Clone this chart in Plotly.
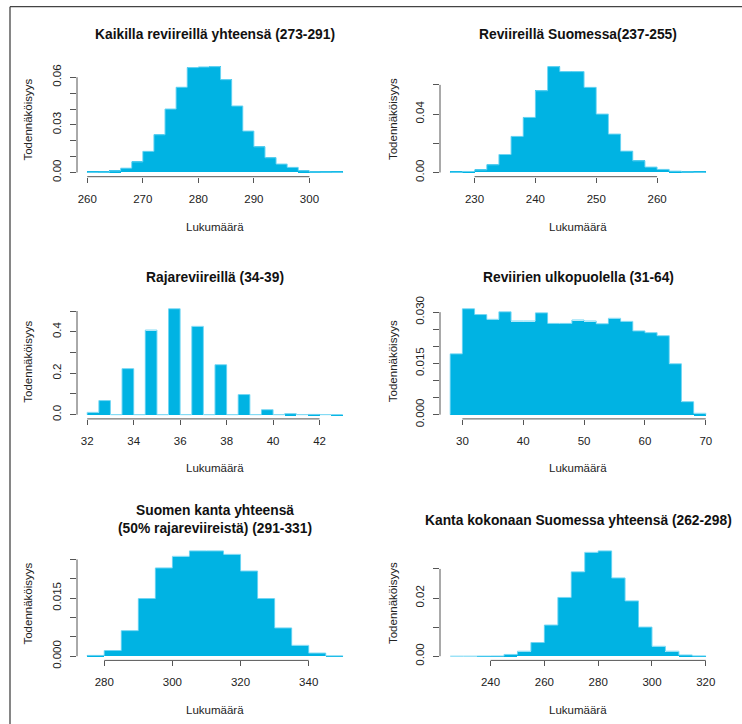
import plotly.graph_objects as go

FONT = "Liberation Sans, Arial, Helvetica, sans-serif"
FILL = "#00B3E3"
EDGE = "#6FD5F3"
AXC = "#555555"
TXT = "#222222"
W, H = 742, 724

# ---------------- data ----------------
p1_title = "Kaikilla reviireillä yhteensä (273-291)"
p1_edges = list(range(260, 308, 2))
p1_density = [0.0001, 0.0002, 0.0010, 0.0027, 0.0067, 0.0133, 0.0238, 0.0400, 0.0537,
              0.0661, 0.0665, 0.0667, 0.0585, 0.0419, 0.0261, 0.0162, 0.0093, 0.0053,
              0.0032, 0.0011, 0.0003, 0.0002, 0.0001]
p1_xticks = [260, 270, 280, 290, 300]
p1_yticks = [0.00, 0.01, 0.02, 0.03, 0.04, 0.05, 0.06]
p1_ylabels = ["0.00", "", "", "0.03", "", "", "0.06"]

p2_title = "Reviireillä Suomessa(237-255)"
p2_edges = list(range(226, 270, 2))
p2_density = [0.0001, 0.0007, 0.0018, 0.0053, 0.0123, 0.0247, 0.0377, 0.0560, 0.0725,
              0.0691, 0.0691, 0.0583, 0.0400, 0.0263, 0.0146, 0.0080, 0.0037, 0.0021,
              0.0009, 0.0003, 0.0001]
p2_xticks = [230, 240, 250, 260]
p2_yticks = [0.00, 0.02, 0.04, 0.06]
p2_ylabels = ["0.00", "", "0.04", ""]

p3_title = "Rajareviireillä (34-39)"
p3_edges = [32 + 0.5 * i for i in range(23)]
p3_density = [0.011, 0.068, 0, 0.222, 0, 0.408, 0, 0.511, 0, 0.426, 0, 0.241, 0, 0.097,
              0, 0.024, 0, 0.005, 0, 0.0012, 0, 0.0003]
p3_xticks = [32, 34, 36, 38, 40, 42]
p3_yticks = [0.0, 0.1, 0.2, 0.3, 0.4, 0.5]
p3_ylabels = ["0.0", "", "0.2", "", "0.4", ""]

p4_title = "Reviirien ulkopuolella (31-64)"
p4_edges = list(range(28, 72, 2))
p4_density = [0.0178, 0.0310, 0.0293, 0.0279, 0.0301, 0.0274, 0.0274, 0.0298, 0.0267,
              0.0267, 0.0277, 0.0274, 0.0266, 0.0282, 0.0273, 0.0245, 0.0240, 0.0231,
              0.0149, 0.0038, 0.0004]
p4_xticks = [30, 40, 50, 60, 70]
p4_yticks = [0.000, 0.005, 0.010, 0.015, 0.020, 0.025, 0.030]
p4_ylabels = ["0.000", "", "", "0.015", "", "", "0.030"]

p5_title = "Suomen kanta yhteensä<br>(50% rajareviireistä) (291-331)"
p5_edges = list(range(275, 355, 5))
p5_density = [0.0002, 0.00147, 0.0066, 0.0149, 0.0228, 0.0258, 0.0272, 0.0272, 0.0263,
              0.0220, 0.0149, 0.0073, 0.0028, 0.0008, 0.0001]
p5_xticks = [280, 300, 320, 340]
p5_yticks = [0.000, 0.005, 0.010, 0.015, 0.020, 0.025]
p5_ylabels = ["0.000", "", "", "0.015", "", ""]

p6_title = "Kanta kokonaan Suomessa yhteensä (262-298)"
p6_edges = list(range(225, 325, 5))
p6_density = [0.0, 0.0, 0.00003, 0.00005, 0.0006, 0.0017, 0.0047, 0.0107, 0.0202, 0.0290,
              0.0357, 0.0362, 0.0269, 0.0190, 0.0100, 0.0034, 0.0017, 0.0004, 0.0001]
p6_xticks = [240, 260, 280, 300, 320]
p6_yticks = [0.00, 0.01, 0.02, 0.03]
p6_ylabels = ["0.00", "", "0.02", ""]

x_title = "Lukumäärä"
y_title = "Todennäköisyys"

panels = [
    (p1_title, p1_edges, p1_density, p1_xticks, p1_yticks, p1_ylabels),
    (p2_title, p2_edges, p2_density, p2_xticks, p2_yticks, p2_ylabels),
    (p3_title, p3_edges, p3_density, p3_xticks, p3_yticks, p3_ylabels),
    (p4_title, p4_edges, p4_density, p4_xticks, p4_yticks, p4_ylabels),
    (p5_title, p5_edges, p5_density, p5_xticks, p5_yticks, p5_ylabels),
    (p6_title, p6_edges, p6_density, p6_xticks, p6_yticks, p6_ylabels),
]

# ---------------- layout geometry (pixels) ----------------
col_x = [(77, 353), (440, 716)]
row_y = [(62.4, 176.7), (304.5, 418.9), (546.7, 660.4)]
title_y = [[34, 34], [277, 277], [519, 520]]
xlab_y = [227, 468, 710]
ylab_x = [28, 392.5]


def px_x(p):
    return p / W


def px_y(p):
    return 1 - p / H


fig = go.Figure()
layout = dict(
    width=W, height=H,
    margin=dict(l=0, r=0, t=0, b=0, autoexpand=False),
    paper_bgcolor="white", plot_bgcolor="white",
    showlegend=False, bargap=0,
    font=dict(family=FONT, color=TXT, size=12),
)
shapes = []
annotations = []

for i, (title, edges, dens, xt, yt, ylab) in enumerate(panels):
    r, c = divmod(i, 2)
    n = i + 1
    xa = "x" if n == 1 else f"x{n}"
    ya = "y" if n == 1 else f"y{n}"
    centers = [(edges[k] + edges[k + 1]) / 2 for k in range(len(dens))]
    widths = [edges[k + 1] - edges[k] for k in range(len(dens))]
    fig.add_trace(go.Bar(
        x=centers, y=dens, width=widths, xaxis=xa, yaxis=ya,
        marker=dict(color=FILL, line=dict(width=0)),
        hoverinfo="x+y",
    ))
    # light outline of the histogram (tops and risers)
    fig.add_trace(go.Scatter(
        x=[edges[0]] + list(edges) + [edges[-1]],
        y=[0] + list(dens) + [dens[-1], 0],
        mode="lines", line=dict(color=EDGE, width=1, shape="hv"),
        xaxis=xa, yaxis=ya, hoverinfo="skip",
    ))
    span = edges[-1] - edges[0]
    ymax = max(dens)
    x0p, x1p = col_x[c]
    y0p, y1p = row_y[r]
    layout["xaxis" if n == 1 else f"xaxis{n}"] = dict(
        domain=[px_x(x0p), px_x(x1p)], anchor=ya,
        range=[edges[0] - 0.04 * span, edges[-1] + 0.04 * span],
        tickvals=xt, ticktext=[f"{v:g}" for v in xt],
        ticks="outside", ticklen=5, tickwidth=1, tickcolor=AXC,
        showgrid=False, zeroline=False, showline=False, automargin=False,
        tickfont=dict(family=FONT, size=11.5, color=TXT),
        ticklabelstandoff=6, fixedrange=True,
    )
    layout["yaxis" if n == 1 else f"yaxis{n}"] = dict(
        domain=[px_y(y1p), px_y(y0p)], anchor=xa,
        range=[-0.04 * ymax, 1.04 * ymax],
        tickvals=yt, ticktext=ylab, tickangle=-90,
        ticks="outside", ticklen=6, tickwidth=1, tickcolor=AXC,
        showgrid=False, zeroline=False, showline=False, automargin=False,
        tickfont=dict(family=FONT, size=11.5, color=TXT),
        ticklabelstandoff=4, fixedrange=True,
    )
    # R-style axis lines spanning first..last tick
    shapes.append(dict(type="line", xref=xa, yref=f"{ya} domain",
                       x0=xt[0], x1=xt[-1], y0=0, y1=0,
                       line=dict(color=AXC, width=1)))
    shapes.append(dict(type="line", xref=f"{xa} domain", yref=ya,
                       x0=0, x1=0, y0=yt[0], y1=yt[-1],
                       line=dict(color=AXC, width=1)))
    cx = px_x((x0p + x1p) / 2)
    annotations.append(dict(text=f"<b>{title}</b>", xref="paper", yref="paper",
                            x=cx, y=px_y(title_y[r][c]),
                            xanchor="center", yanchor="middle", showarrow=False,
                            font=dict(family=FONT, size=13.8, color="#111111")))
    annotations.append(dict(text=x_title, xref="paper", yref="paper",
                            x=cx, y=px_y(xlab_y[r]), xanchor="center", yanchor="middle",
                            showarrow=False, font=dict(family=FONT, size=11.5, color=TXT)))
    annotations.append(dict(text=y_title, xref="paper", yref="paper",
                            x=px_x(ylab_x[c]), y=px_y((y0p + y1p) / 2), textangle=-90,
                            xanchor="center", yanchor="middle",
                            showarrow=False, font=dict(family=FONT, size=11.5, color=TXT)))

# outer frame (top and left edges visible)
shapes.append(dict(type="line", xref="paper", yref="paper",
                   x0=px_x(10), x1=1, y0=px_y(6.7), y1=px_y(6.7),
                   line=dict(color="#444444", width=1.3)))
shapes.append(dict(type="line", xref="paper", yref="paper",
                   x0=px_x(10), x1=px_x(10), y0=0, y1=px_y(6.7),
                   line=dict(color="#444444", width=1.3)))

layout["shapes"] = shapes
layout["annotations"] = annotations
fig.update_layout(**layout)
fig.write_html(
    "out.html",
    config={"displayModeBar": False},
    post_script="document.body.style.margin='0px';document.body.style.overflow='hidden';",
)
